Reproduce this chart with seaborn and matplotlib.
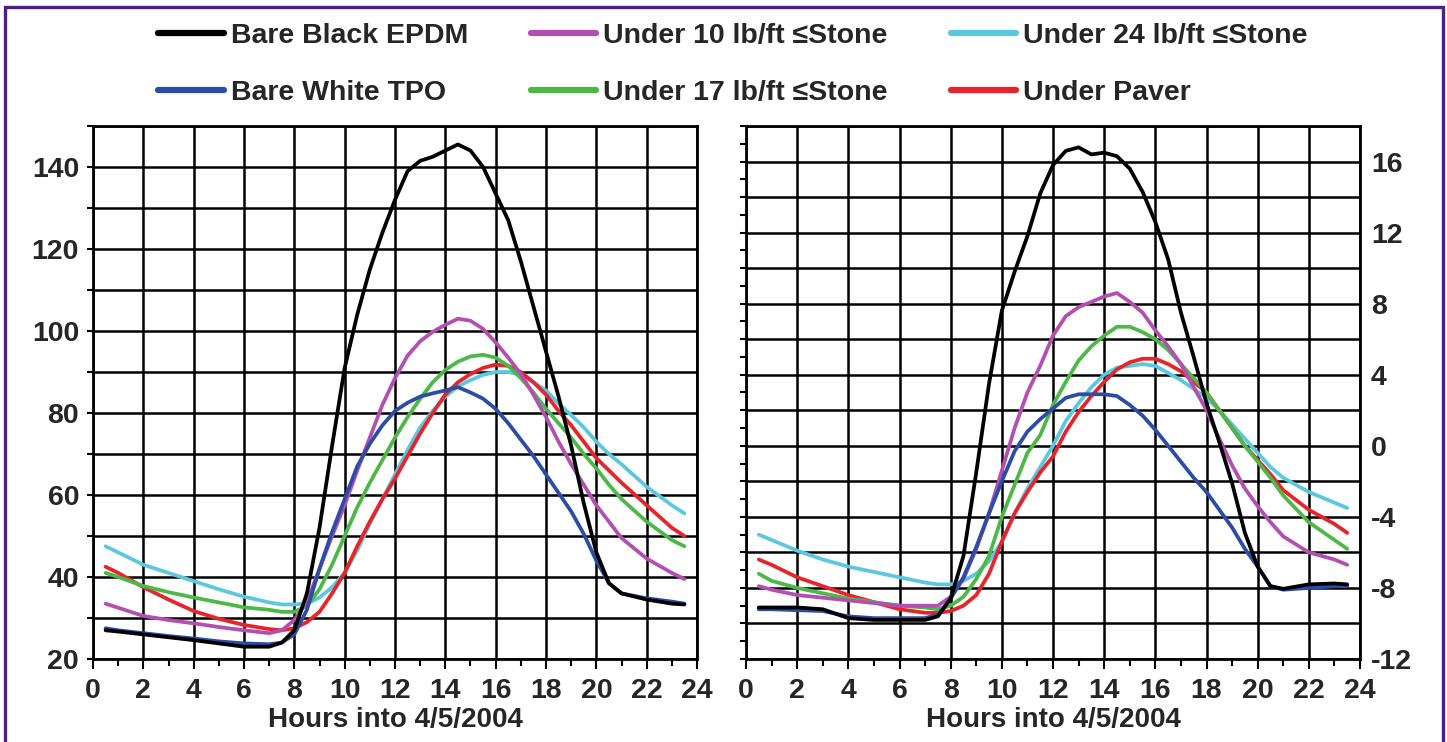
import numpy as np
import pandas as pd
import matplotlib
matplotlib.use("Agg")
import matplotlib.pyplot as plt
import seaborn as sns
from matplotlib.lines import Line2D
from matplotlib.patches import Rectangle
from matplotlib.ticker import MultipleLocator, FuncFormatter

# ---------------- data ----------------
hours = [0.5, 1, 2, 3, 4, 5, 6, 7, 7.5, 8, 8.5, 9, 9.5, 10, 10.5, 11, 11.5, 12, 12.5,
         13, 13.5, 14, 14.5, 15, 15.5, 16, 16.5, 17, 17.5, 18, 18.5, 19, 19.5, 20,
         20.5, 21, 22, 23, 23.5]

series_names = ["Bare Black EPDM", "Bare White TPO", "Under 10 lb/ft \u2264Stone",
                "Under 17 lb/ft \u2264Stone", "Under 24 lb/ft \u2264Stone", "Under Paver"]

# Left panel (deg F)
left_black = [27, 26.7, 26, 25.3, 24.6, 23.8, 23, 23, 24, 27, 36, 52, 72, 91, 104, 115, 124, 132, 139,
              141.5, 142.5, 144, 145.5, 144, 140, 133.5, 127, 117, 106, 95, 84, 72, 58, 46,
              38.5, 36, 34.5, 33.5, 33.3]
left_blue = [27.5, 27, 26.3, 25.6, 25, 24.3, 23.8, 23.6, 24, 26, 32, 42, 51, 59, 67, 72.5, 77, 80.5, 82.5,
             84, 84.8, 85.5, 86.3, 85, 83.5, 81, 77.5, 73.5, 69.5, 65, 60.5, 56, 50.5, 44,
             38.5, 36, 34.8, 34, 33.5]
left_s10 = [33.5, 32.5, 30.5, 29.5, 28.7, 27.8, 27, 26.3, 27, 29.5, 34, 42, 50, 57.5, 66, 74, 82, 88.5, 94,
            97.5, 99.8, 101.5, 103, 102.5, 100.5, 97.2, 93.5, 89.5, 84.5, 79, 73, 67.5, 62.5, 57.5,
            53.5, 49.5, 44.5, 41, 39.5]
left_s17 = [41, 40, 37.8, 36.3, 35, 33.8, 32.6, 32, 31.5, 31.5, 33, 37, 43, 50, 57, 63, 68.5, 74, 79,
            83.5, 87.5, 90.5, 92.5, 93.8, 94.2, 93.5, 91.5, 88.5, 85, 81, 77.5, 74, 70, 66.5,
            62.5, 59, 53.5, 49, 47.5]
left_s24 = [47.5, 46, 43, 41, 39, 37, 35.2, 33.8, 33.3, 33.3, 33.5, 35, 37.5, 41, 46.5, 53, 59, 65, 71,
            76.5, 80.5, 84, 86.5, 88, 89.3, 90, 90, 89.3, 87.5, 85.5, 82.3, 79.5, 76.5, 73,
            70, 67.5, 62, 57.5, 55.5]
left_paver = [42.5, 41, 37.5, 34.5, 31.7, 29.8, 28.3, 27.3, 27, 27.5, 29, 31.5, 36, 41, 47.5, 53.5, 59, 64, 69.5,
              75, 80, 84.5, 87.5, 89.5, 91, 91.8, 91.5, 90, 87.5, 84.5, 80.5, 77, 73, 69,
              66, 63, 57.5, 52, 50]

# Right panel (deg C)
right_black = [-9.1, -9.1, -9.1, -9.2, -9.7, -9.8, -9.8, -9.8, -9.6, -8.6, -6.2, -1.5, 3.5, 7.6, 9.8, 11.8, 14.2,
               15.8, 16.6, 16.8, 16.4, 16.5, 16.3, 15.6, 14.3, 12.6, 10.5, 7.5, 5, 2.4, 0.2, -2.1, -4.9,
               -6.8, -7.9, -8.05, -7.8, -7.75, -7.8]
right_blue = [-9.2, -9.2, -9.25, -9.3, -9.6, -9.7, -9.7, -9.7, -9.5, -8.6, -7.4, -5.7, -3.8, -2, -0.3, 0.8, 1.5,
              2.1, 2.7, 2.9, 2.9, 2.9, 2.8, 2.3, 1.7, 0.9, 0, -0.9, -1.8, -2.6, -3.6, -4.6, -5.8,
              -6.8, -7.9, -8.1, -8, -7.9, -7.9]
right_s10 = [-7.9, -8.1, -8.4, -8.55, -8.7, -8.85, -9, -9, -9, -8.5, -7.5, -5.8, -3.8, -1.4, 1, 3, 4.5,
             6.2, 7.3, 7.8, 8.1, 8.4, 8.6, 8.1, 7.5, 6.5, 5.6, 4.6, 3.3, 2, 0.4, -1.1, -2.4,
             -3.4, -4.3, -5.1, -6, -6.4, -6.7]
right_s17 = [-7.2, -7.6, -8, -8.3, -8.6, -8.8, -9, -9.1, -9.2, -9, -8.5, -7.5, -6.2, -4, -2.2, -0.4, 0.6,
             2.3, 3.6, 4.8, 5.6, 6.2, 6.7, 6.7, 6.4, 6, 5.4, 4.6, 3.8, 3, 2, 1, 0,
             -0.9, -1.8, -2.8, -4.3, -5.3, -5.8]
right_s24 = [-5, -5.3, -5.9, -6.4, -6.8, -7.1, -7.4, -7.7, -7.8, -7.8, -7.6, -7.2, -6.5, -5.4, -3.8, -2.4, -1.2,
             0, 1.4, 2.4, 3.3, 4, 4.4, 4.5, 4.6, 4.5, 4.1, 3.7, 3.2, 2.7, 2, 1.2, 0.4,
             -0.4, -1.2, -1.8, -2.6, -3.2, -3.5]
right_paver = [-6.4, -6.7, -7.4, -7.9, -8.4, -8.8, -9.2, -9.4, -9.4, -9.3, -9, -8.4, -7.2, -5.4, -3.8, -2.6, -1.5,
               -0.6, 0.8, 1.9, 2.8, 3.6, 4.3, 4.7, 4.9, 4.9, 4.6, 4.2, 3.6, 3, 2, 1, 0,
               -0.8, -1.6, -2.5, -3.6, -4.4, -4.9]

x_ticks = list(range(0, 25, 2))
left_ylabels = [20, 40, 60, 80, 100, 120, 140]
right_ylabels = [-12, -8, -4, 0, 4, 8, 12, 16]

colors = ["#000000", "#2B4DA8", "#B44FB2", "#4DB848", "#5CC8E0", "#E8232A"]
draw_order = [4, 5, 3, 2, 1, 0]  # black drawn last (on top)


def long_df(values):
    rows = []
    for name, vals in zip(series_names, values):
        for h, v in zip(hours, vals):
            rows.append({"hour": h, "temp": v, "series": name})
    return pd.DataFrame(rows)


left_df = long_df([left_black, left_blue, left_s10, left_s17, left_s24, left_paver])
right_df = long_df([right_black, right_blue, right_s10, right_s17, right_s24, right_paver])

# ---------------- style ----------------
sns.set_theme(style="white")
FAM = ["Liberation Sans", "DejaVu Sans"]
plt.rcParams["font.family"] = FAM
plt.rcParams["font.weight"] = "bold"
plt.rcParams["axes.unicode_minus"] = False

fig = plt.figure(figsize=(14.47, 7.42), dpi=100)
W, H = 1447, 742
axL = fig.add_axes([93 / W, 1 - 659 / H, (697 - 93) / W, (659 - 126) / H])
axR = fig.add_axes([746 / W, 1 - 659 / H, (1360 - 746) / W, (659 - 126) / H])

palette = {n: c for n, c in zip(series_names, colors)}
hue_order = [series_names[i] for i in draw_order]

for ax, df in ((axL, left_df), (axR, right_df)):
    sns.lineplot(data=df, x="hour", y="temp", hue="series", hue_order=hue_order,
                 palette=palette, ax=ax, legend=False, linewidth=2.7, sort=False,
                 estimator=None)
    ax.set_xlim(0, 24)
    ax.set_xticks(x_ticks)
    ax.xaxis.set_minor_locator(MultipleLocator(1))
    ax.grid(True, which="major", color="black", linewidth=1.8)
    ax.set_axisbelow(True)
    for sp in ax.spines.values():
        sp.set_color("black")
        sp.set_linewidth(2.0)
    ax.set_xlabel("Hours into 4/5/2004", fontsize=20, fontweight="bold", labelpad=2)
    ax.set_ylabel("")
    ax.tick_params(axis="x", which="major", direction="out", length=7, width=1.5,
                   color="black", labelsize=20.5, pad=7, bottom=True)
    ax.tick_params(axis="x", which="minor", direction="out", length=5, width=1.5,
                   color="black", bottom=True)
    for lab in ax.get_xticklabels():
        lab.set_fontweight("bold")

# left panel y
axL.set_ylim(20, 150)
axL.yaxis.set_major_locator(MultipleLocator(10))
axL.yaxis.set_major_formatter(FuncFormatter(
    lambda v, p: f"{int(round(v))}" if int(round(v)) in left_ylabels else ""))
axL.tick_params(axis="y", which="major", direction="out", length=4, width=1.5,
                color="black", labelsize=20.5, pad=6, left=True)

# right panel y
axR.set_ylim(-12, 18)
axR.yaxis.set_major_locator(MultipleLocator(2))
axR.yaxis.set_minor_locator(MultipleLocator(1))
axR.yaxis.set_major_formatter(FuncFormatter(
    lambda v, p: f"{int(round(v))}" if int(round(v)) in right_ylabels else ""))
axR.tick_params(axis="y", which="both", direction="out", length=4, width=1.5,
                color="black", labelsize=20.5, pad=4, left=True, right=False,
                labelleft=False, labelright=True)

for ax in (axL, axR):
    for lab in ax.get_yticklabels():
        lab.set_fontweight("bold")

# legend
handles = [Line2D([0], [0], color=c, linewidth=4.5) for c in colors]
fig.legend(handles, series_names, loc="center", bbox_to_anchor=(733 / W, 1 - 64.5 / H),
           ncol=3, frameon=False, prop={"family": FAM, "weight": "bold", "size": 20.5},
           handlelength=2.3, handletextpad=0.25, columnspacing=2.2, labelspacing=1.1)

# purple frame
fig.patches.append(Rectangle((5 / W, -0.02), (1443 - 5) / W, 1.02 - 7 / H,
                             transform=fig.transFigure, fill=False,
                             edgecolor="#4B2088", linewidth=2.4, zorder=10))

fig.savefig("out.png", dpi=100, facecolor="white")
